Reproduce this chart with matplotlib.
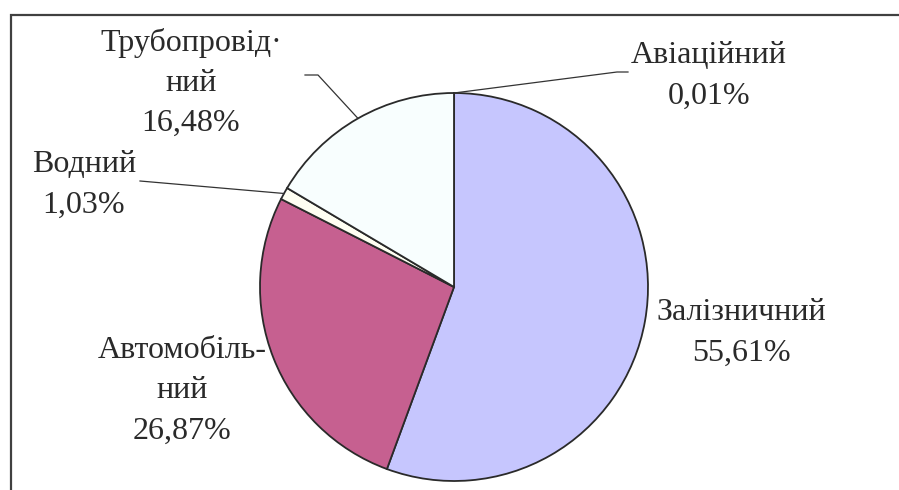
import numpy as np
import matplotlib.pyplot as plt
from matplotlib.patches import Rectangle

plt.rcParams['font.family'] = ['Liberation Serif', 'DejaVu Serif']

# порядок секторів за годинниковою стрілкою від верху
labels = ["Авіаційний", "Залізничний", "Автомобіль-\nний", "Водний", "Трубопровід·\nний"]
shares = [0.01, 55.61, 26.87, 1.03, 16.48]
colors = ["#c6c6fe", "#c6c6fe", "#c66090", "#fffff2", "#f8fefe"]

W, H = 899, 490
cx, cy, r = 454, H - 287, 194

# позиції підписів (центр тексту) та початок виносних ліній, пікселі
label_pos = [(709, 76), (741, 333), (182, 391), (84, 185), (191, 83)]
leader_from = {0: [(628, 72), (617, 72)], 3: [(140, 181)], 4: [(305, 75), (318, 75)]}

fig = plt.figure(figsize=(W / 100, H / 100), dpi=100)
ax = fig.add_axes([0, 0, 1, 1])

wedges, _ = ax.pie(shares, colors=colors, startangle=90, counterclock=False,
                   center=(cx, cy), radius=r,
                   wedgeprops=dict(edgecolor="#2a2a2a", linewidth=1.3))
ax.set_xlim(0, W)
ax.set_ylim(0, H)
ax.set_aspect("equal")
ax.axis("off")

for i, (lab, val) in enumerate(zip(labels, shares)):
    x, y = label_pos[i]
    txt = lab + "\n" + f"{val:.2f}".replace(".", ",") + "%"
    ax.text(x, H - y, txt, ha="center", va="center", fontsize=23,
            color="#2a2a2a", linespacing=1.5)
    if i in leader_from:
        w = wedges[i]
        mid = np.deg2rad((w.theta1 + w.theta2) / 2)
        pts = [(px, H - py) for px, py in leader_from[i]]
        pts.append((cx + r * np.cos(mid), cy + r * np.sin(mid)))
        xs, ys = zip(*pts)
        ax.plot(xs, ys, color="#333333", lw=0.9)

fig.patches.append(Rectangle((11 / W, -0.1), 1.2, (H - 15) / H + 0.1,
                             transform=fig.transFigure, fill=False,
                             edgecolor="#404040", linewidth=1.6))

fig.savefig("out.png", dpi=100)
